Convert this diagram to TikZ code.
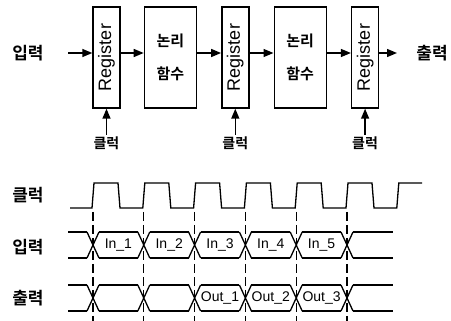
\documentclass[tikz,border=0pt]{standalone}
\usepackage{fontspec}
\setmainfont{Liberation Sans}
\newfontfamily\kor{Noto Sans CJK KR}[BoldFont={Noto Sans CJK KR Bold}]
\usetikzlibrary{arrows.meta,positioning}
\newcommand{\per}{50.8}

\begin{document}
\begin{tikzpicture}[x=1pt,y=-1pt,
  node distance=24pt,
  reg/.style={draw,line width=1.4pt,minimum width=27pt,minimum height=101pt,
              inner sep=0pt,font=\fontsize{18}{18}\selectfont},
  logik/.style={draw,line width=1.4pt,minimum width=52pt,minimum height=101pt,
                inner sep=0pt,align=center,font=\kor\bfseries\fontsize{15}{33}\selectfont},
  lbl/.style={inner sep=0pt,font=\kor\bfseries\fontsize{17}{17}\selectfont},
  klbl/.style={inner sep=0pt,font=\kor\bfseries\fontsize{14}{14}\selectfont},
  pijl/.style={-{Triangle[length=10pt,width=8pt]},line width=1.4pt},
  sig/.style={line width=1.3pt},
  tik/.style={line width=1.2pt,dash pattern=on 9pt off 4pt},
  bus/.style={inner sep=0pt,font=\fontsize{14}{14}\selectfont}
]
  \useasboundingbox (0,0) rectangle (451,321);

  \node[reg] (reg1) at (106.5,57.5) {\rotatebox{90}{Register}};
  \node[logik,right=23pt of reg1] (f1) {논리\\함수};
  \node[reg,right=of f1] (reg2) {\rotatebox{90}{Register}};
  \node[logik,right=of reg2] (f2) {논리\\함수};
  \node[reg,right=of f2] (reg3) {\rotatebox{90}{Register}};

  \node[lbl] (in) at (28,53) {입력};
  \node[lbl] (out) at (432,53) {출력};
  \coordinate (ina) at (68,53);
  \coordinate (uita) at (397,53);

  \draw[pijl] (ina) -- (ina -| reg1.west);
  \draw[pijl] (reg1.east |- ina) -- (f1.west |- ina);
  \draw[pijl] (f1.east |- ina) -- (reg2.west |- ina);
  \draw[pijl] (reg2.east |- ina) -- (f2.west |- ina);
  \draw[pijl] (f2.east |- ina) -- (reg3.west |- ina);
  \draw[pijl] (reg3.east |- uita) -- (uita);

  \node[klbl,below=28pt of reg1] (clk1) {클럭};
  \node[klbl,below=28pt of reg2] (clk2) {클럭};
  \node[klbl,below=28pt of reg3] (clk3) {클럭};
  \draw[pijl] (clk1.north) ++(0,-2) -- (reg1.south);
  \draw[pijl] (clk2.north) ++(0,-2) -- (reg2.south);
  \draw[pijl] (clk3.north) ++(0,-2) -- (reg3.south);

  \node[lbl] (tclk) at (28,195) {클럭};
  \node[lbl] (tin) at (28,247) {입력};
  \node[lbl] (tout) at (28,298) {출력};

  \foreach \k in {0,...,5}
    \draw[tik] ({93+\per*\k},212) -- ({93+\per*\k},321);

  \draw[sig] (70,208) \foreach \k in {0,...,5} {
      -- ({92+\per*\k},208) -- ({94+\per*\k},183)
      -- ({118+\per*\k},183) -- ({120+\per*\k},208) }
    -- ({92+\per*6},208) -- ({94+\per*6},183) -- (422,183);

  \foreach \t in {232,285} {
    \draw[sig] (68,\t) -- (87,\t) (68,\t+26) -- (87,\t+26);
    \foreach \k in {0,...,5}
      \draw[sig] ({87+\per*\k},\t) -- ({99+\per*\k},\t+26)
                 ({87+\per*\k},\t+26) -- ({99+\per*\k},\t);
    \foreach \k in {0,...,4}
      \draw[sig] ({99+\per*\k},\t) -- ({87+\per*(\k+1)},\t)
                 ({99+\per*\k},\t+26) -- ({87+\per*(\k+1)},\t+26);
    \draw[sig] ({99+\per*5},\t) -- (393,\t) ({99+\per*5},\t+26) -- (393,\t+26);
  }

  \foreach \i in {1,...,5}
    \node[bus] (in\i) at ({93+\per*(\i-0.5)},245) {In\_\i};
  \foreach \j in {1,2,3}
    \node[bus] (out\j) at ({93+\per*(\j+1.5)},298) {Out\_\j};
\end{tikzpicture}
\end{document}
